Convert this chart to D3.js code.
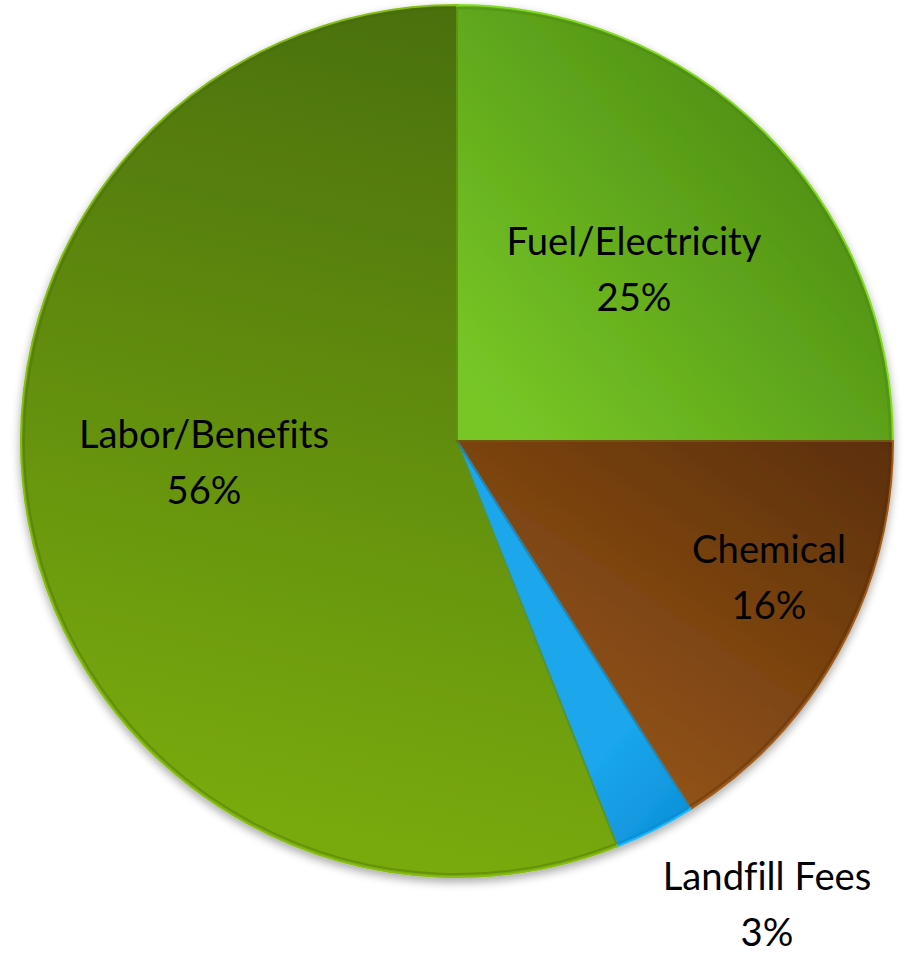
<!DOCTYPE html>
<html>
<head>
<meta charset="utf-8">
<script src="https://cdn.jsdelivr.net/npm/d3@7"></script>
<style>
  html, body { margin: 0; padding: 0; background: #ffffff; }
  svg { display: block; }
</style>
</head>
<body>
<svg id="chart" width="909" height="953"></svg>
<script>
// Operating cost breakdown
const categories = ["Fuel/Electricity", "Chemical", "Landfill Fees", "Labor/Benefits"];
const shares = [25, 16, 3, 56];
const percentLabels = ["25%", "16%", "3%", "56%"];

// Gradient colour pairs per slice: [dark, light]
const sliceColors = [
  ["#4c8a12", "#77c626"],
  ["#5c2f07", "#905218"],
  ["#0c8ed6", "#1aa6ec"],
  ["#4a7009", "#78aa10"]
];

const svg = d3.select("#chart");
const cx = 457, cy = 441, R = 436;

const defs = svg.append("defs");

// soft shadow under the disc
const shadow = defs.append("filter").attr("id", "shadow")
  .attr("x", "-10%").attr("y", "-10%").attr("width", "120%").attr("height", "125%");
shadow.append("feGaussianBlur").attr("in", "SourceAlpha").attr("stdDeviation", 5).attr("result", "b");
shadow.append("feOffset").attr("in", "b").attr("dx", 0).attr("dy", 4).attr("result", "o");
shadow.append("feComponentTransfer").attr("in", "o").attr("result", "s")
  .append("feFuncA").attr("type", "linear").attr("slope", 0.35);
const merge = shadow.append("feMerge");
merge.append("feMergeNode").attr("in", "s");
merge.append("feMergeNode").attr("in", "SourceGraphic");

// per-slice gradient directions (in pie-local coordinates)
const gradDirs = [
  [[390, -330], [40, -30]],
  [[430, 0], [200, 340]],
  [[250, 380], [160, 300]],
  [[0, -430], [-180, 380]]
];
sliceColors.forEach((c, i) => {
  const g = defs.append("linearGradient").attr("id", "g" + i)
    .attr("gradientUnits", "userSpaceOnUse")
    .attr("x1", gradDirs[i][0][0]).attr("y1", gradDirs[i][0][1])
    .attr("x2", gradDirs[i][1][0]).attr("y2", gradDirs[i][1][1]);
  g.append("stop").attr("offset", "0%").attr("stop-color", c[0]);
  g.append("stop").attr("offset", "100%").attr("stop-color", c[1]);
});

const pie = d3.pie().sort(null).value(d => d)(shares);
const arc = d3.arc().innerRadius(0).outerRadius(R);
const bevel = d3.arc().innerRadius(0).outerRadius(R - 3);

const g = svg.append("g").attr("transform", `translate(${cx},${cy})`);

g.append("g").attr("filter", "url(#shadow)")
  .selectAll("path").data(pie).join("path")
  .attr("d", arc)
  .attr("fill", (d, i) => `url(#g${i})`)
  .attr("stroke", (d, i) => d3.color(sliceColors[i][1]).brighter(0.3))
  .attr("stroke-width", 2)
  .attr("stroke-linejoin", "round");

// inner edge line giving a bevelled look
g.append("g").selectAll("path").data(pie).join("path")
  .attr("d", bevel)
  .attr("fill", "none")
  .attr("stroke", (d, i) => d3.color(sliceColors[i][0]).darker(0.2))
  .attr("stroke-opacity", 0.35)
  .attr("stroke-width", 2);

// label anchors (centre x, baseline of first line)
const labelPos = [
  [634, 255],
  [769, 563],
  [767, 890],
  [204, 448]
];
const fontFamily = "Lato, 'Open Sans', sans-serif";

// pick a font size so that the label widths match a Calibri-like setting
const probe = svg.append("text").attr("font-family", fontFamily).attr("font-size", 40).text(categories[0]);
const w40 = probe.node().getComputedTextLength();
probe.remove();
const fs = 40 * 255 / w40;

const labels = svg.append("g").attr("font-family", fontFamily).attr("font-size", fs)
  .attr("fill", "#000").attr("text-anchor", "middle")
  .style("font-variant-ligatures", "none");
categories.forEach((c, i) => {
  const t = labels.append("text").attr("x", labelPos[i][0]).attr("y", labelPos[i][1]);
  t.append("tspan").attr("x", labelPos[i][0]).text(c);
  t.append("tspan").attr("x", labelPos[i][0]).attr("dy", 56).text(percentLabels[i]);
});
</script>
</body>
</html>
